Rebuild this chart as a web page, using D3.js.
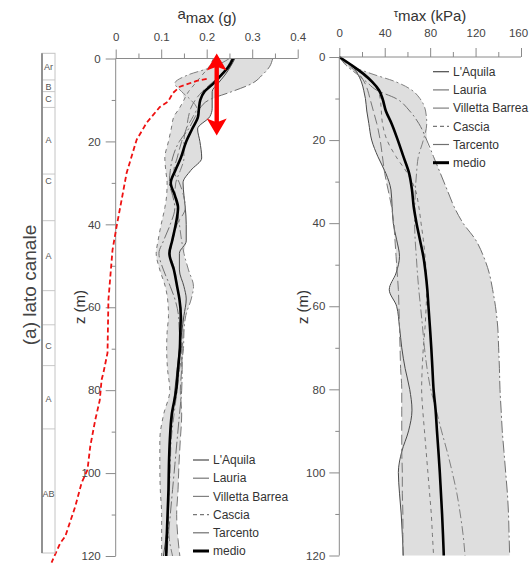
<!DOCTYPE html>
<html>
<head>
<meta charset="utf-8">
<script src="https://cdn.jsdelivr.net/npm/d3@7"></script>
<style>
  body { margin: 0; background: #fff; }
  svg { display: block; font-family: "Liberation Sans", Arial, sans-serif; }
</style>
</head>
<body>
<div id="chart"></div>
<script>
// depth grid (m) for the a_max profiles
var depthA = [0,2,4,6,8,10,12,14,17,20,24,27,30,33,36,40,44,47,51,55,58,62,66,70,75,80,86,92,98,104,110,116,120];

// a_max (g) per record
var aLAquila = [0.262,0.252,0.240,0.225,0.212,0.212,0.212,0.207,0.180,0.185,0.189,0.165,0.148,0.150,0.153,0.155,0.155,0.140,0.140,0.150,0.155,0.150,0.145,0.140,0.135,0.130,0.125,0.120,0.118,0.117,0.116,0.110,0.105];
var aLauria = [0.255,0.245,0.230,0.210,0.190,0.175,0.165,0.160,0.155,0.145,0.135,0.128,0.140,0.149,0.153,0.135,0.125,0.120,0.130,0.135,0.140,0.145,0.148,0.146,0.145,0.142,0.145,0.142,0.139,0.137,0.134,0.137,0.141];
var aVilletta = [0.250,0.215,0.158,0.130,0.145,0.165,0.178,0.170,0.155,0.150,0.150,0.142,0.132,0.130,0.135,0.140,0.145,0.150,0.160,0.171,0.166,0.154,0.150,0.149,0.140,0.135,0.128,0.122,0.120,0.118,0.115,0.118,0.125];
var aCascia = [0.215,0.205,0.190,0.175,0.160,0.150,0.140,0.128,0.122,0.116,0.108,0.110,0.113,0.112,0.108,0.100,0.093,0.089,0.097,0.109,0.114,0.116,0.113,0.112,0.114,0.119,0.105,0.097,0.097,0.098,0.101,0.101,0.101];
var aTarcento = [0.345,0.338,0.322,0.300,0.255,0.205,0.185,0.175,0.160,0.140,0.125,0.120,0.118,0.125,0.130,0.120,0.105,0.095,0.105,0.120,0.130,0.138,0.140,0.145,0.146,0.145,0.140,0.135,0.130,0.125,0.120,0.115,0.112];
var aMedio = [0.258,0.248,0.232,0.215,0.195,0.186,0.183,0.181,0.168,0.155,0.143,0.131,0.121,0.130,0.137,0.132,0.124,0.118,0.128,0.135,0.140,0.143,0.142,0.141,0.137,0.133,0.123,0.119,0.117,0.116,0.114,0.112,0.111];

// depth grid (m) for the tau_max profiles
var depthT = [0,2,4,6,8,10,13,16,20,24,28,32,36,40,44,48,52,56,60,65,70,75,80,85,90,95,100,105,110,115,120];

// tau_max (kPa) per record
var tLAquila = [0,11,16,19.5,21.5,23,24.2,26,28.5,34,41,45.5,46.5,47.5,50.5,53,50,44,50.5,53,55,58,62,64,61,55,52,53,54.5,55.5,56.4];
var tLauria = [0,8,17,22,25,27,30,33,36,38,40,43,46,48,49,50,51,52,52.5,53,53.5,54,55,55,55,55,55.5,55.5,56,56,56];
var tVilletta = [0,9,28,50,64,71,76,77,74,69.6,68,67,66.5,66.3,66.8,67.8,68.8,70,71.5,73.3,75,77.3,80.5,85.3,90,95,99.5,103.5,106.5,109,110.7];
var tCascia = [0,10,20,28,34,36,37,38,42,50,60,67,70,72,74,75.5,76.5,77,76.5,75.5,74,73,72.5,73.5,75,76.5,78,79.5,81,82,83];
var tTarcento = [0,6,15,24,33,50,62,70,77,83,89,95,101,109,120,127,132,135,137.5,139.5,140.3,141,141.5,142.5,143.5,145,146.5,148,149,149.5,150];
var tMedio = [0,11,21,29,35,38,41,46,51.5,56.5,61.5,64,65.5,68,71,74,76,77.5,78.5,79.8,81,82,83,84.8,86,87.3,88.5,89.5,90.5,91.3,92];

var seriesNames = ["L'Aquila", "Lauria", "Villetta Barrea", "Cascia", "Tarcento", "medio"];

// red annotation profile drawn over the a_max panel
var redZ = [4.9,5.4,6.8,8.3,10.4,11.7,15.5,19.6,27.6,34.1,40.5,46.2,58.2,71.0,75.8,77.5,82.4,87.2,93.6,99.2,102.4,108.1,115.3,116.9,121.6];
var redA = [0.200,0.178,0.141,0.126,0.115,0.097,0.068,0.046,0.024,0.013,0.002,-0.007,-0.016,-0.018,-0.027,-0.031,-0.035,-0.045,-0.056,-0.062,-0.075,-0.089,-0.111,-0.122,-0.141];
var arrowA = 0.222;
var arrowZ = [-1.2, 18.6];

// soil column
var layerBounds = [0, 6.4, 9.2, 13.0, 29.0, 40.2, 57.0, 65.2, 75.0, 90.2, 120];
var layerNames = ["Ar", "B", "C", "A", "C", "A", "C", "A", "AB"];
var layerLabelZ = [3.3, 8.1, 11.0, 20.8, 30.6, 48.6, 70.2, 82.9, 105.8];

// tick values
var aTicks = [0, 0.1, 0.2, 0.3, 0.4];
var aMinor = [0.05, 0.15, 0.25, 0.35];
var tTicks = [0, 40, 80, 120, 160];
var tMinor = [20, 60, 100, 140];
var zTicks = [0, 20, 40, 60, 80, 100, 120];
var zMinor = [10, 30, 50, 70, 90, 110];

var W = 529, H = 564;
var axisColor = "#8a8a8a", textColor = "#444";

var styles = [
    { stroke: "#4a4a4a", width: 1, dash: null },
    { stroke: "#777", width: 1, dash: "10,4" },
    { stroke: "#808080", width: 1, dash: "9,3,2,3" },
    { stroke: "#777", width: 1, dash: "4,4" },
    { stroke: "#707070", width: 1, dash: "12,3,2,3" },
    { stroke: "#000", width: 2.6, dash: null }
];

var svg = d3.select("#chart").append("svg")
    .attr("width", W)
    .attr("height", H);

function drawPanel(opt) {
    var x = d3.scaleLinear().domain(opt.xDomain).range(opt.xRange);
    var y = d3.scaleLinear().domain([0, 120]).range(opt.yRange);
    var g = svg.append("g");

    var rows = opt.depth.map(function(z, i) {
        var vals = opt.series.slice(0, 5).map(function(s) { return s[i]; });
        return { z: z, lo: d3.min(vals), hi: d3.max(vals) };
    });

    var area = d3.area()
        .y(function(d) { return y(d.z); })
        .x0(function(d) { return x(d.lo); })
        .x1(function(d) { return x(d.hi); })
        .curve(d3.curveMonotoneY);

    g.append("path")
        .datum(rows)
        .attr("d", area)
        .attr("fill", "#dedede");

    var line = d3.line()
        .x(function(d) { return x(d.v); })
        .y(function(d) { return y(d.z); })
        .curve(d3.curveMonotoneY);

    opt.series.forEach(function(s, k) {
        var pts = opt.depth.map(function(z, i) { return { z: z, v: s[i] }; });
        g.append("path")
            .datum(pts)
            .attr("d", line)
            .attr("fill", "none")
            .attr("stroke", styles[k].stroke)
            .attr("stroke-width", styles[k].width)
            .attr("stroke-dasharray", styles[k].dash);
    });

    // top axis, major + minor ticks
    var xAxis = g.append("g")
        .attr("transform", "translate(0," + opt.yRange[0] + ")")
        .call(d3.axisTop(x).tickValues(opt.xTicks).tickSize(9).tickPadding(opt.xPad)
            .tickFormat(function(d) { return String(d); }));
    var xMinor = g.append("g")
        .attr("transform", "translate(0," + opt.yRange[0] + ")")
        .call(d3.axisTop(x).tickValues(opt.xMinor).tickSize(5).tickFormat(""));
    xMinor.select(".domain").remove();

    var yAxis = g.append("g")
        .attr("transform", "translate(" + opt.xRange[0] + ",0)")
        .call(d3.axisLeft(y).tickValues(zTicks).tickSize(10).tickPadding(opt.yPad)
            .tickFormat(function(d) { return String(d); }));
    var yMinor = g.append("g")
        .attr("transform", "translate(" + opt.xRange[0] + ",0)")
        .call(d3.axisLeft(y).tickValues(zMinor).tickSize(4).tickFormat(""));
    yMinor.select(".domain").remove();

    [xAxis, xMinor, yAxis, yMinor].forEach(function(a) {
        a.selectAll("path, line").attr("stroke", axisColor);
        a.selectAll("text")
            .attr("fill", textColor)
            .attr("font-size", "11.5px")
            .attr("font-family", "Liberation Sans, Arial, sans-serif");
    });
    xAxis.select(".domain").attr("d", "M" + opt.xRange[0] + ",0H" + opt.xRange[1]);
    yAxis.select(".domain").attr("d", "M0," + opt.yRange[0] + "V" + opt.yRange[1]);

    // keep the last top tick label inside the page
    if (opt.lastLabelShift) {
        xAxis.selectAll(".tick:last-of-type text").attr("dx", opt.lastLabelShift);
    }

    // z (m) label
    g.append("text")
        .attr("transform", "translate(" + opt.zLabelX + ",307) rotate(-90)")
        .attr("text-anchor", "middle")
        .attr("font-size", "15px")
        .attr("fill", "#333")
        .text("z (m)");

    // legend
    var leg = g.append("g")
        .attr("transform", "translate(" + opt.legend[0] + "," + opt.legend[1] + ")");
    seriesNames.forEach(function(name, k) {
        var row = leg.append("g").attr("transform", "translate(0," + (k * 18.2) + ")");
        row.append("line")
            .attr("x1", 0).attr("x2", 16)
            .attr("y1", 0).attr("y2", 0)
            .attr("stroke", styles[k].stroke)
            .attr("stroke-width", k == 5 ? 3 : 1.2)
            .attr("stroke-dasharray", k == 3 ? "4,3" : null);
        row.append("text")
            .attr("x", 20).attr("y", 0)
            .attr("dy", "0.35em")
            .attr("font-size", "12px")
            .attr("fill", "#333")
            .text(name);
    });

    return { x: x, y: y, g: g };
}

var left = drawPanel({
    xDomain: [0, 0.4], xRange: [115.7, 297.7], yRange: [58.5, 556],
    xTicks: aTicks, xMinor: aMinor, xPad: 9, yPad: 5,
    depth: depthA,
    series: [aLAquila, aLauria, aVilletta, aCascia, aTarcento, aMedio],
    zLabelX: 85, legend: [193, 460]
});

var right = drawPanel({
    xDomain: [0, 160], xRange: [339.3, 521], yRange: [57, 555.5],
    xTicks: tTicks, xMinor: tMinor, xPad: 11, yPad: 4,
    depth: depthT,
    series: [tLAquila, tLauria, tVilletta, tCascia, tTarcento, tMedio],
    zLabelX: 308, legend: [433, 71.7], lastLabelShift: -3
});

// titles
var t1 = svg.append("text")
    .attr("x", 207).attr("y", 23)
    .attr("text-anchor", "middle")
    .attr("font-size", "15px")
    .attr("fill", "#333");
t1.append("tspan").attr("dy", -4).text("a");
t1.append("tspan").attr("dy", 4).text("max (g)");

var t2 = svg.append("text")
    .attr("x", 430).attr("y", 21)
    .attr("text-anchor", "middle")
    .attr("font-size", "15px")
    .attr("fill", "#333");
t2.append("tspan").attr("font-size", "11px").attr("dy", -4).text("τ");
t2.append("tspan").attr("dy", 4).text("max (kPa)");

// red annotation: dashed profile + double arrow
var redPts = redZ.map(function(z, i) { return { z: z, v: redA[i] }; });
svg.append("path")
    .datum(redPts)
    .attr("d", d3.line()
        .x(function(d) { return left.x(d.v); })
        .y(function(d) { return left.y(d.z); }))
    .attr("fill", "none")
    .attr("stroke", "#ee1111")
    .attr("stroke-width", 1.8)
    .attr("stroke-dasharray", "5,3");

var ax = left.x(arrowA), ay0 = left.y(arrowZ[0]), ay1 = left.y(arrowZ[1]);
var hw = 10, hl = 17, sw = 2.2;
svg.append("path")
    .attr("d", "M" + ax + "," + ay0 +
        "L" + (ax + hw) + "," + (ay0 + hl) + "L" + (ax + sw) + "," + (ay0 + hl - 3) +
        "L" + (ax + sw) + "," + (ay1 - hl + 3) + "L" + (ax + hw) + "," + (ay1 - hl) +
        "L" + ax + "," + ay1 +
        "L" + (ax - hw) + "," + (ay1 - hl) + "L" + (ax - sw) + "," + (ay1 - hl + 3) +
        "L" + (ax - sw) + "," + (ay0 + hl - 3) + "L" + (ax - hw) + "," + (ay0 + hl) + "Z")
    .attr("fill", "#ff0000");

// soil column
var yc = d3.scaleLinear().domain([0, 120]).range([53.3, 553]);
var col = svg.append("g");
col.selectAll("line.layer")
    .data(layerBounds.slice(1, -1))
    .enter().append("line")
    .attr("x1", 42).attr("x2", 55)
    .attr("y1", function(d) { return yc(d); })
    .attr("y2", function(d) { return yc(d); })
    .attr("stroke", "#c8c8c8");
col.append("rect")
    .attr("x", 42).attr("y", yc(0))
    .attr("width", 13).attr("height", yc(120) - yc(0))
    .attr("fill", "none")
    .attr("stroke", "#c4c4c4");
col.append("line")
    .attr("x1", 42).attr("x2", 42)
    .attr("y1", yc(0)).attr("y2", yc(120))
    .attr("stroke", "#8a8a8a").attr("stroke-width", 1.8);
col.selectAll("text")
    .data(layerNames)
    .enter().append("text")
    .attr("x", 48.5)
    .attr("y", function(d, i) { return yc(layerLabelZ[i]); })
    .attr("dy", "0.35em")
    .attr("text-anchor", "middle")
    .attr("font-size", "9px")
    .attr("fill", "#555")
    .text(function(d) { return d; });

svg.append("text")
    .attr("transform", "translate(36,285) rotate(-90)")
    .attr("text-anchor", "middle")
    .attr("font-size", "19px")
    .attr("fill", "#444")
    .text("(a) lato canale");
</script>
</body>
</html>
